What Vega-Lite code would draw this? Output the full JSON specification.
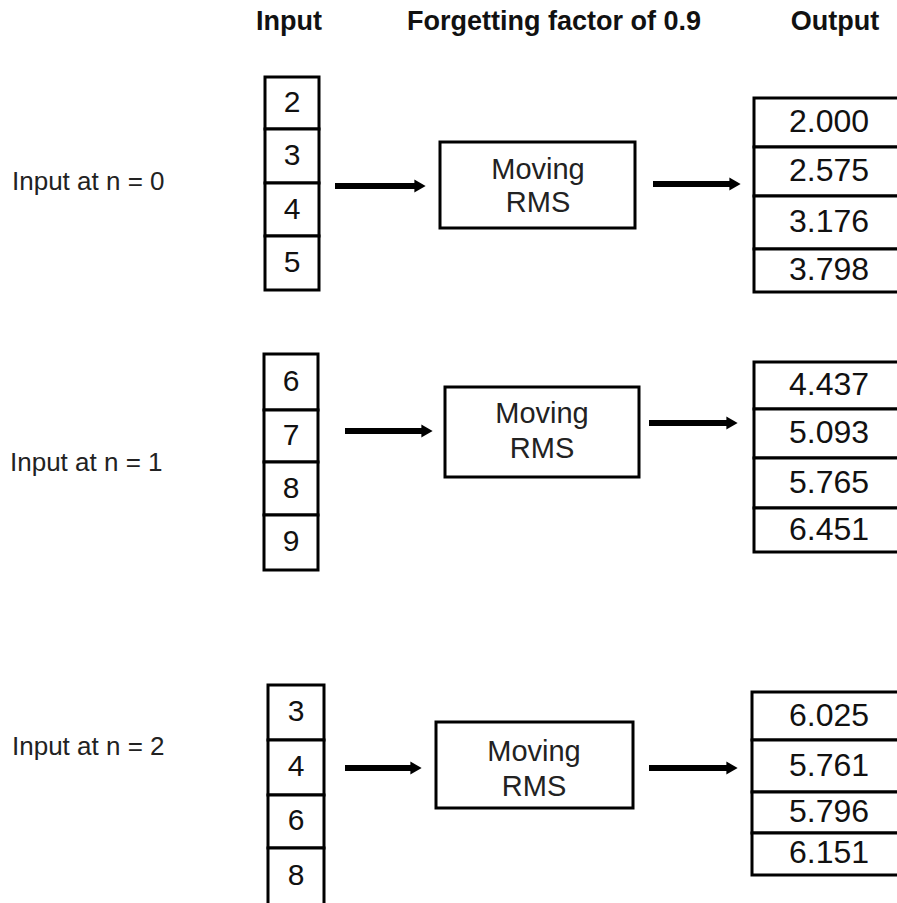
{
  "$schema": "https://vega.github.io/schema/vega-lite/v6.json",
  "width": 897,
  "height": 903,
  "padding": 0,
  "autosize": {"type": "none"},
  "background": "white",
  "config": {"view": {"stroke": null}},
  "datasets": {
    "cells": [
      {"x": 265, "x2": 319, "y": 77, "y2": 129},
      {"x": 265, "x2": 319, "y": 129, "y2": 183},
      {"x": 265, "x2": 319, "y": 183, "y2": 236},
      {"x": 265, "x2": 319, "y": 236, "y2": 290},
      {"x": 264, "x2": 318, "y": 354, "y2": 410},
      {"x": 264, "x2": 318, "y": 410, "y2": 462},
      {"x": 264, "x2": 318, "y": 462, "y2": 515},
      {"x": 264, "x2": 318, "y": 515, "y2": 570},
      {"x": 268, "x2": 324, "y": 685, "y2": 740},
      {"x": 268, "x2": 324, "y": 740, "y2": 795},
      {"x": 268, "x2": 324, "y": 795, "y2": 848},
      {"x": 268, "x2": 324, "y": 848, "y2": 912},
      {"x": 754, "x2": 912, "y": 98, "y2": 147},
      {"x": 754, "x2": 912, "y": 147, "y2": 196},
      {"x": 754, "x2": 912, "y": 196, "y2": 249},
      {"x": 754, "x2": 912, "y": 249, "y2": 292},
      {"x": 754, "x2": 912, "y": 362, "y2": 409},
      {"x": 754, "x2": 912, "y": 409, "y2": 458},
      {"x": 754, "x2": 912, "y": 458, "y2": 508},
      {"x": 754, "x2": 912, "y": 508, "y2": 552},
      {"x": 752, "x2": 912, "y": 692, "y2": 740},
      {"x": 752, "x2": 912, "y": 740, "y2": 792},
      {"x": 752, "x2": 912, "y": 792, "y2": 833},
      {"x": 752, "x2": 912, "y": 833, "y2": 875},
      {"x": 440, "x2": 635, "y": 142, "y2": 228},
      {"x": 445, "x2": 639, "y": 387, "y2": 477},
      {"x": 436, "x2": 633, "y": 722, "y2": 808}
    ],
    "arrows": [
      {"x": 335, "shaftEnd": 418, "tip": 420, "y": 186},
      {"x": 653, "shaftEnd": 733, "tip": 735, "y": 184},
      {"x": 345, "shaftEnd": 425, "tip": 427, "y": 431},
      {"x": 649, "shaftEnd": 730, "tip": 732, "y": 423},
      {"x": 345, "shaftEnd": 414, "tip": 416, "y": 768},
      {"x": 649, "shaftEnd": 730, "tip": 732, "y": 768}
    ],
    "digits": [
      {"x": 292, "y": 103, "t": "2"},
      {"x": 292, "y": 156, "t": "3"},
      {"x": 292, "y": 210, "t": "4"},
      {"x": 292, "y": 263, "t": "5"},
      {"x": 291, "y": 382, "t": "6"},
      {"x": 291, "y": 436, "t": "7"},
      {"x": 291, "y": 489, "t": "8"},
      {"x": 291, "y": 542, "t": "9"},
      {"x": 296, "y": 712, "t": "3"},
      {"x": 296, "y": 767, "t": "4"},
      {"x": 296, "y": 821, "t": "6"},
      {"x": 296, "y": 876, "t": "8"}
    ],
    "outputs": [
      {"x": 829, "y": 122, "t": "2.000"},
      {"x": 829, "y": 171, "t": "2.575"},
      {"x": 829, "y": 222, "t": "3.176"},
      {"x": 829, "y": 270, "t": "3.798"},
      {"x": 829, "y": 385, "t": "4.437"},
      {"x": 829, "y": 433, "t": "5.093"},
      {"x": 829, "y": 483, "t": "5.765"},
      {"x": 829, "y": 530, "t": "6.451"},
      {"x": 829, "y": 716, "t": "6.025"},
      {"x": 829, "y": 766, "t": "5.761"},
      {"x": 829, "y": 812, "t": "5.796"},
      {"x": 829, "y": 853, "t": "6.151"}
    ],
    "boxText": [
      {"x": 538, "y": 170, "t": "Moving"},
      {"x": 538, "y": 203, "t": "RMS"},
      {"x": 542, "y": 414, "t": "Moving"},
      {"x": 542, "y": 449, "t": "RMS"},
      {"x": 534, "y": 752, "t": "Moving"},
      {"x": 534, "y": 787, "t": "RMS"}
    ],
    "labels": [
      {"x": 12, "y": 182, "t": "Input at n = 0"},
      {"x": 10, "y": 463, "t": "Input at n = 1"},
      {"x": 12, "y": 747, "t": "Input at n = 2"}
    ],
    "headers": [
      {"x": 289, "y": 22, "t": "Input"},
      {"x": 554, "y": 22, "t": "Forgetting factor of 0.9"},
      {"x": 835, "y": 22, "t": "Output"}
    ]
  },
  "layer": [
    {
      "data": {"name": "cells"},
      "mark": {"type": "rect", "fill": "white", "stroke": "black", "strokeWidth": 3, "clip": true},
      "encoding": {
        "x": {"field": "x", "type": "quantitative", "scale": {"domain": [0, 897], "nice": false, "zero": false}, "axis": null},
        "x2": {"field": "x2"},
        "y": {"field": "y", "type": "quantitative", "scale": {"domain": [0, 903], "nice": false, "zero": false, "reverse": true}, "axis": null},
        "y2": {"field": "y2"}
      }
    },
    {
      "data": {"name": "arrows"},
      "mark": {"type": "rule", "stroke": "black", "strokeWidth": 6},
      "encoding": {
        "x": {"field": "x", "type": "quantitative"},
        "x2": {"field": "shaftEnd"},
        "y": {"field": "y", "type": "quantitative"}
      }
    },
    {
      "data": {"name": "arrows"},
      "mark": {"type": "point", "shape": "triangle-right", "filled": true, "color": "black", "opacity": 1, "size": 170},
      "encoding": {
        "x": {"field": "tip", "type": "quantitative"},
        "y": {"field": "y", "type": "quantitative"}
      }
    },
    {
      "data": {"name": "digits"},
      "mark": {"type": "text", "font": "Liberation Sans", "fontSize": 30, "color": "#111", "align": "center", "baseline": "middle"},
      "encoding": {
        "x": {"field": "x", "type": "quantitative"},
        "y": {"field": "y", "type": "quantitative"},
        "text": {"field": "t"}
      }
    },
    {
      "data": {"name": "outputs"},
      "mark": {"type": "text", "font": "Liberation Sans", "fontSize": 32, "color": "#111", "align": "center", "baseline": "middle"},
      "encoding": {
        "x": {"field": "x", "type": "quantitative"},
        "y": {"field": "y", "type": "quantitative"},
        "text": {"field": "t"}
      }
    },
    {
      "data": {"name": "boxText"},
      "mark": {"type": "text", "font": "Liberation Sans", "fontSize": 29, "color": "#222", "align": "center", "baseline": "middle"},
      "encoding": {
        "x": {"field": "x", "type": "quantitative"},
        "y": {"field": "y", "type": "quantitative"},
        "text": {"field": "t"}
      }
    },
    {
      "data": {"name": "labels"},
      "mark": {"type": "text", "font": "Liberation Sans", "fontSize": 26, "color": "#222", "align": "left", "baseline": "middle"},
      "encoding": {
        "x": {"field": "x", "type": "quantitative"},
        "y": {"field": "y", "type": "quantitative"},
        "text": {"field": "t"}
      }
    },
    {
      "data": {"name": "headers"},
      "mark": {"type": "text", "font": "Liberation Sans", "fontWeight": "bold", "fontSize": 27, "color": "#111", "align": "center", "baseline": "middle"},
      "encoding": {
        "x": {"field": "x", "type": "quantitative"},
        "y": {"field": "y", "type": "quantitative"},
        "text": {"field": "t"}
      }
    }
  ]
}
